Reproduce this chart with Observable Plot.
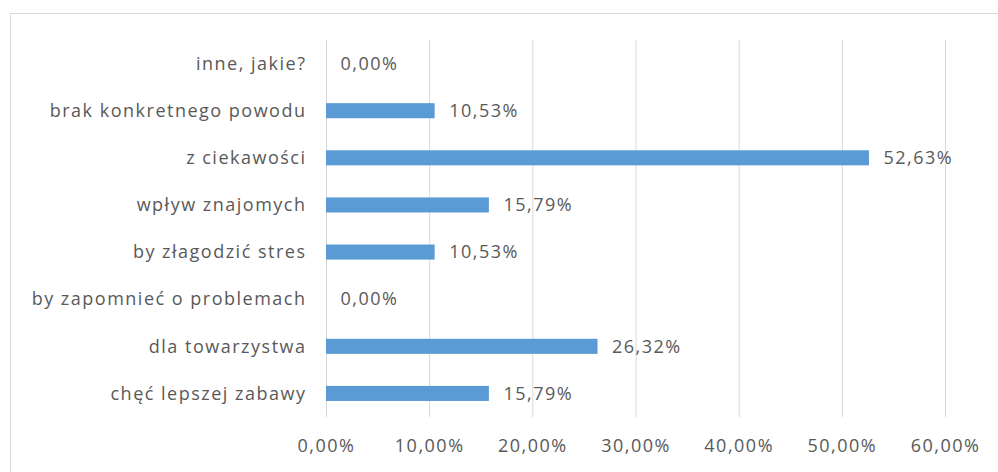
<!DOCTYPE html>
<html>
<head>
<meta charset="utf-8">
<script src="https://cdn.jsdelivr.net/npm/d3@7"></script>
<script src="https://cdn.jsdelivr.net/npm/@observablehq/plot@0.6"></script>
<style>
  html, body { margin: 0; padding: 0; background: #fff; overflow: hidden; }
  #wrap { position: relative; width: 998px; height: 472px; }
  #frame { position: absolute; left: 10px; top: 13px; width: 1100px; height: 600px; border: 1px solid #d9d9d9; box-sizing: border-box; }
  #chart { position: absolute; left: 0; top: 0; }
  #chart svg { font-family: "Open Sans", sans-serif; letter-spacing: 1.5px; }
</style>
</head>
<body>
<div id="wrap"><div id="frame"></div><div id="chart"></div></div>
<script>
const categories = ["inne, jakie?", "brak konkretnego powodu", "z ciekawości", "wpływ znajomych", "by złagodzić stres", "by zapomnieć o problemach", "dla towarzystwa", "chęć lepszej zabawy"];
const values = [0, 10.53, 52.63, 15.79, 10.53, 0, 26.32, 15.79];
const xTicks = [0, 10, 20, 30, 40, 50, 60];

const data = categories.map((c, i) => ({cat: c, value: values[i]}));
const fmt = v => v.toFixed(2).replace(".", ",") + "%";

const chart = Plot.plot({
  width: 998,
  height: 472,
  marginLeft: 326,
  marginRight: 53,
  marginTop: 40,
  marginBottom: 55,
  style: {fontSize: "18px", color: "#595959", background: "transparent"},
  x: {domain: [0, 60]},
  y: {domain: categories, paddingInner: 0.68, paddingOuter: 0.34, round: false},
  marks: [
    Plot.ruleX(xTicks, {stroke: "#d9d9d9", strokeWidth: 1}),
    Plot.barX(data, {x: "value", y: "cat", fill: "#5b9bd5"}),
    Plot.text(data, {x: "value", y: "cat", text: d => fmt(d.value), textAnchor: "start", dx: 14, fill: "#595959", fontSize: 18}),
    Plot.axisY({tickSize: 0, tickPadding: 20, label: null, fontSize: 18}),
    Plot.axisX({ticks: xTicks, tickSize: 0, tickPadding: 22, tickFormat: fmt, label: null, fontSize: 18})
  ]
});
document.getElementById("chart").appendChild(chart);
</script>
</body>
</html>
